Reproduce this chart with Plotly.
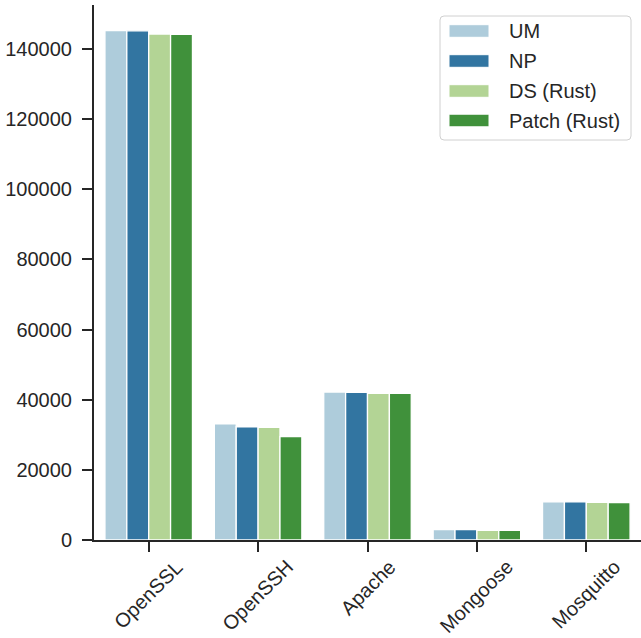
import plotly.graph_objects as go

categories = ["OpenSSL", "OpenSSH", "Apache", "Mongoose", "Mosquitto"]
series_names = ["UM", "NP", "DS (Rust)", "Patch (Rust)"]
um = [145300, 33100, 42200, 2950, 10860]
np_vals = [145200, 32300, 42100, 2950, 10860]
ds = [144300, 32100, 41800, 2770, 10760]
patch = [144200, 29500, 41800, 2770, 10670]
series_values = [um, np_vals, ds, patch]
colors = ["#aeccdb", "#3275a1", "#b3d495", "#40913b"]
y_ticks = [0, 20000, 40000, 60000, 80000, 100000, 120000, 140000]

W, H = 641, 638
L, R, T, B = 94, 0, 5, 98
PW, PH = W - L - R, H - T - B
FONT = "Liberation Sans, Arial, sans-serif"
TXT = "#262626"
FS = 20

fig = go.Figure()
for name, vals, c in zip(series_names, series_values, colors):
    fig.add_trace(go.Bar(
        x=categories, y=vals, name=name,
        marker=dict(color=c, line=dict(color="white", width=1.3)),
        showlegend=False,
    ))

ymax = max(max(v) for v in series_values) * 1.05

fig.update_layout(
    width=W, height=H,
    margin=dict(l=L, r=R, t=T, b=B),
    plot_bgcolor="white", paper_bgcolor="white",
    barmode="group", bargap=0.2, bargroupgap=0,
    font=dict(family=FONT, size=FS, color=TXT),
)
fig.update_xaxes(
    range=[-0.5, len(categories) - 0.5],
    showline=True, linecolor=TXT, linewidth=2,
    ticks="outside", ticklen=10, tickwidth=2, tickcolor=TXT,
    showticklabels=False,
    showgrid=False, zeroline=False,
)
fig.update_yaxes(
    range=[0, ymax],
    tickvals=y_ticks,
    ticktext=[str(v) for v in y_ticks],
    showline=True, linecolor=TXT, linewidth=2,
    ticks="outside", ticklen=10, tickwidth=2, tickcolor=TXT,
    ticklabelstandoff=6,
    tickfont=dict(size=FS, color=TXT),
    showgrid=False, zeroline=False,
)

def px(x):
    return (x - L) / PW

def py(y):
    return (H - B - y) / PH

# rotated, centred category labels (matplotlib rotation=45, ha=center)
for cat in categories:
    fig.add_annotation(x=cat, y=py(553), xref="x", yref="paper",
                       text=cat, textangle=-45, showarrow=False,
                       xanchor="center", yanchor="top",
                       font=dict(family=FONT, size=FS, color=TXT))

# manual legend (matplotlib-style wide patches)
bx0, by0, bx1, by1, rad = 440, 16, 631, 140, 4
path = (
    f"M {px(bx0 + rad)},{py(by0)} L {px(bx1 - rad)},{py(by0)} "
    f"Q {px(bx1)},{py(by0)} {px(bx1)},{py(by0 + rad)} "
    f"L {px(bx1)},{py(by1 - rad)} Q {px(bx1)},{py(by1)} {px(bx1 - rad)},{py(by1)} "
    f"L {px(bx0 + rad)},{py(by1)} Q {px(bx0)},{py(by1)} {px(bx0)},{py(by1 - rad)} "
    f"L {px(bx0)},{py(by0 + rad)} Q {px(bx0)},{py(by0)} {px(bx0 + rad)},{py(by0)} Z"
)
fig.add_shape(type="path", path=path, xref="paper", yref="paper",
              line=dict(color="#d0d0d0", width=1), fillcolor="rgba(255,255,255,0.8)")
centers = [31, 61, 91, 120.5]
for name, c, cy in zip(series_names, colors, centers):
    fig.add_shape(type="rect", xref="paper", yref="paper",
                  x0=px(449), x1=px(489), y0=py(cy - 6.3), y1=py(cy + 6.3),
                  fillcolor=c, line=dict(color="white", width=1))
    fig.add_annotation(x=px(507), y=py(cy), xref="paper", yref="paper",
                       text=name, showarrow=False, xanchor="left", yanchor="middle",
                       font=dict(family=FONT, size=FS, color=TXT))

fig.write_html("out.html")
